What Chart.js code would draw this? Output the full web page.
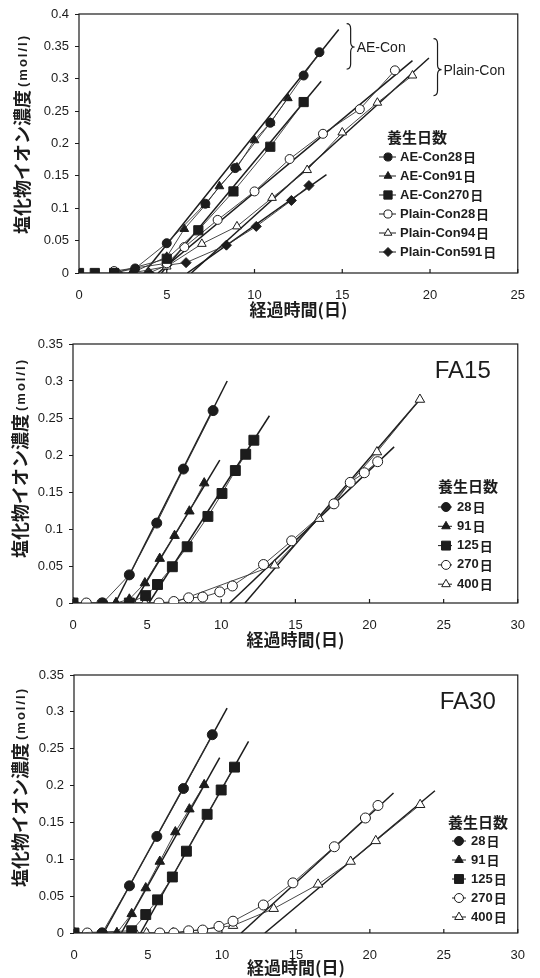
<!DOCTYPE html>
<html>
<head>
<meta charset="utf-8">
<script src="https://cdn.jsdelivr.net/npm/chart.js@4.4.0/dist/chart.umd.min.js"></script>
<style>
body { margin: 0; background: #fff; width: 540px; height: 978px; overflow: hidden; position: relative; }
.box { position: absolute; left: 0; width: 540px; }
</style>
</head>
<body>
<div class="box" style="top:0;height:320px"><canvas id="c1"></canvas></div>
<div class="box" style="top:320px;height:330px"><canvas id="c2"></canvas></div>
<div class="box" style="top:650px;height:328px"><canvas id="c3"></canvas></div>
<script>
// ---- top chart: AE-Con / Plain-Con
var names1 = ['AE-Con28日', 'AE-Con91日', 'AE-Con270日', 'Plain-Con28日', 'Plain-Con94日', 'Plain-Con591日'];
var ae28X = [2, 3.2, 5, 7.2, 8.9, 10.9, 12.8, 13.7];
var ae28Y = [0, 0.007, 0.046, 0.107, 0.162, 0.232, 0.305, 0.341];
var ae91X = [2.1, 3, 5, 6, 7.2, 8, 9, 10, 10.9, 11.9];
var ae91Y = [0, 0, 0.025, 0.068, 0.105, 0.134, 0.163, 0.205, 0.232, 0.27];
var ae270X = [0, 0.9, 2, 5, 6.8, 8.8, 10.9, 12.8];
var ae270Y = [0, 0, 0, 0.022, 0.066, 0.126, 0.195, 0.264];
var pl28X = [2, 5, 6, 7.9, 10, 12, 13.9, 16, 18];
var pl28Y = [0.003, 0.015, 0.04, 0.082, 0.126, 0.176, 0.215, 0.253, 0.313];
var pl94X = [3, 5, 7, 9, 11, 13, 15, 17, 19];
var pl94Y = [0, 0.01, 0.045, 0.072, 0.116, 0.159, 0.217, 0.263, 0.305];
var pl591X = [2.2, 4, 5, 6.1, 8.4, 10.1, 12.1, 13.1];
var pl591Y = [0, 0, 0.012, 0.016, 0.043, 0.072, 0.112, 0.135];
// regression lines (start, end)
var fit1X = [[3.7, 14.8], [4.7, 13.8], [4.5, 19], [6.4, 19.94], [6.17, 14.1]];
var fit1Y = [[0, 0.376], [0, 0.296], [0, 0.328], [0, 0.332], [0, 0.152]];

// ---- FA15
var namesFA = ['28日', '91日', '125日', '270日', '400日'];
var fa15d28X = [2, 3.8, 5.65, 7.45, 9.45];
var fa15d28Y = [0, 0.038, 0.108, 0.181, 0.26];
var fa15d91X = [2.9, 3.8, 4.85, 5.85, 6.85, 7.85, 8.85];
var fa15d91Y = [0, 0.005, 0.027, 0.06, 0.091, 0.124, 0.162];
var fa15d125X = [0, 3.8, 4.9, 5.7, 6.7, 7.7, 9.1, 10.05, 10.95, 11.65, 12.2];
var fa15d125Y = [0, 0, 0.01, 0.025, 0.049, 0.076, 0.117, 0.148, 0.179, 0.201, 0.22];
var fa15d270X = [0, 0.9, 1.95, 3.9, 5.8, 6.8, 7.8, 8.75, 9.9, 10.75, 12.85, 14.75, 17.6, 18.7, 19.65, 20.55];
var fa15d270Y = [0, 0, 0, 0, 0, 0.002, 0.007, 0.008, 0.015, 0.023, 0.052, 0.084, 0.134, 0.163, 0.176, 0.191];
var fa15d400X = [0, 2.9, 4.85, 6.7, 13.6, 16.6, 20.5, 23.4];
var fa15d400Y = [0, 0, 0, 0, 0.051, 0.114, 0.204, 0.275];
var fit2X = [[2.85, 10.4], [4.1, 9.9], [5.12, 13.25], [10.57, 21.66], [11.6, 23.4]];
var fit2Y = [[0, 0.3], [0, 0.193], [0, 0.253], [0, 0.211], [0, 0.275]];

// ---- FA30
var fa30d28X = [1.9, 3.75, 5.6, 7.4, 9.35];
var fa30d28Y = [0, 0.064, 0.131, 0.196, 0.269];
var fa30d91X = [2.9, 3.9, 4.85, 5.8, 6.85, 7.8, 8.8];
var fa30d91Y = [0, 0.026, 0.061, 0.097, 0.137, 0.168, 0.201];
var fa30d125X = [0, 3.9, 4.85, 5.65, 6.65, 7.6, 9, 9.95, 10.85];
var fa30d125Y = [0, 0.003, 0.025, 0.045, 0.076, 0.111, 0.161, 0.194, 0.225];
var fa30d270X = [0, 0.9, 1.9, 4, 5.8, 6.75, 7.75, 8.7, 9.8, 10.75, 12.8, 14.8, 17.6, 19.7, 20.55];
var fa30d270Y = [0, 0, 0, 0, 0, 0, 0.003, 0.004, 0.009, 0.016, 0.038, 0.068, 0.117, 0.156, 0.173];
var fa30d400X = [0, 2.9, 4.9, 6.7, 10.75, 13.5, 16.5, 18.7, 20.4, 23.4];
var fa30d400Y = [0, 0, 0, 0, 0.01, 0.033, 0.066, 0.097, 0.125, 0.174];
var fit3X = [[2, 10.35], [3.2, 9.85], [4.5, 11.8], [11.3, 21.6], [12.9, 24.4]];
var fit3Y = [[0, 0.305], [0, 0.238], [0, 0.26], [0, 0.19], [0, 0.193]];

var ink = '#1c1c1c';
var numFont = '"Liberation Sans", Arial, sans-serif';
var jpFont = '"Noto Sans CJK JP", sans-serif';

var style1 = [
  {pointStyle: 'circle', radius: 4.5, open: false},
  {pointStyle: 'triangle', radius: 5, open: false},
  {pointStyle: 'rect', radius: 6.5, open: false},
  {pointStyle: 'circle', radius: 4.5, open: true},
  {pointStyle: 'triangle', radius: 5, open: true},
  {pointStyle: 'rectRot', radius: 5, open: false}
];
var styleFA = [
  {pointStyle: 'circle', radius: 5, open: false},
  {pointStyle: 'triangle', radius: 5.5, open: false},
  {pointStyle: 'rect', radius: 7, open: false},
  {pointStyle: 'circle', radius: 5, open: true},
  {pointStyle: 'triangle', radius: 5.5, open: true}
];

function pts(xs, ys) {
  return xs.map(function (x, i) { return {x: x, y: ys[i]}; });
}

function buildSets(names, xs, ys, styles, fx, fy) {
  var sets = [];
  names.forEach(function (n, i) {
    var s = styles[i];
    sets.push({
      label: n,
      data: pts(xs[i], ys[i]),
      showLine: true,
      borderColor: '#333',
      borderWidth: 0.9,
      pointStyle: s.pointStyle,
      pointRadius: s.radius,
      pointBorderWidth: 1,
      pointBorderColor: ink,
      pointBackgroundColor: s.open ? '#fff' : ink
    });
  });
  fx.forEach(function (x, i) {
    sets.push({
      data: pts(x, fy[i]),
      showLine: true,
      borderColor: ink,
      borderWidth: 1.5,
      pointRadius: 0
    });
  });
  return sets;
}

var decoPlugin = {
  id: 'deco',
  beforeDatasetsDraw: function (chart) {
    var ctx = chart.ctx, a = chart.chartArea, xs = chart.scales.x;
    ctx.save();
    ctx.strokeStyle = ink;
    ctx.lineWidth = 1.2;
    ctx.strokeRect(a.left, a.top, a.right - a.left, a.bottom - a.top);
    ctx.beginPath();
    xs.ticks.forEach(function (t) {
      var px = xs.getPixelForValue(t.value);
      ctx.moveTo(px, a.bottom);
      ctx.lineTo(px, a.bottom - 4);
    });
    ctx.stroke();
    ctx.restore();
  },
  afterDraw: function (chart) {
    var o = chart.options.plugins.deco;
    var ctx = chart.ctx, a = chart.chartArea;
    ctx.save();
    ctx.fillStyle = ink;
    ctx.strokeStyle = ink;

    // y axis title, mixed sizes
    var main = '塩化物イオン濃度', unit = '(mol/l)';
    var f1 = 'bold 18px ' + jpFont, f2 = 'bold 13px ' + numFont;
    ctx.font = f1; var w1 = ctx.measureText(main).width;
    ctx.font = f2; ctx.letterSpacing = '2px'; var w2 = ctx.measureText(unit).width;
    ctx.letterSpacing = '0px';
    ctx.translate(o.yTitleX, o.yTitleY);
    ctx.rotate(-Math.PI / 2);
    ctx.textBaseline = 'middle';
    ctx.textAlign = 'left';
    var sx = -(w1 + w2 + 3) / 2;
    ctx.font = f1; ctx.fillText(main, sx, 0);
    ctx.font = f2; ctx.letterSpacing = '2px'; ctx.fillText(unit, sx + w1 + 3, 1);
    ctx.letterSpacing = '0px';
    ctx.setTransform(1, 0, 0, 1, 0, 0);
    ctx.scale(chart.currentDevicePixelRatio, chart.currentDevicePixelRatio);

    // legend
    var lg = o.legend;
    ctx.textBaseline = 'middle';
    ctx.textAlign = 'center';
    ctx.font = 'bold 15px ' + jpFont;
    ctx.fillText('養生日数', lg.titleX, lg.titleY);
    ctx.textAlign = 'left';
    var rows = chart.data.datasets.filter(function (d) { return d.label; });
    rows.forEach(function (d, i) {
      var y = lg.rowY + i * lg.dy;
      ctx.lineWidth = 1;
      ctx.beginPath();
      ctx.moveTo(lg.lineX0, y);
      ctx.lineTo(lg.lineX1, y);
      ctx.stroke();
      ctx.fillStyle = d.pointBackgroundColor;
      ctx.strokeStyle = ink;
      Chart.helpers.drawPoint(ctx, {pointStyle: d.pointStyle, radius: d.pointRadius * 0.9, rotation: 0, borderWidth: 1}, lg.markX, y);
      ctx.fillStyle = ink;
      var num = d.label.slice(0, -1);
      ctx.font = 'bold 13px ' + numFont;
      ctx.fillText(num, lg.textX, y);
      var w = ctx.measureText(num).width;
      ctx.font = 'bold 13px ' + jpFont;
      ctx.fillText('日', lg.textX + w + 1, y);
    });

    // panel label
    if (o.panel) {
      ctx.font = '24px ' + numFont;
      ctx.textAlign = 'center';
      ctx.fillText(o.panel, a.right - o.panelDx, a.top + o.panelDy);
    }

    // braces
    if (o.braces) {
      var xs = chart.scales.x, ys = chart.scales.y;
      ctx.lineWidth = 1.2;
      o.braces.forEach(function (b) {
        var x = xs.getPixelForValue(b.x), t = ys.getPixelForValue(b.top),
            bt = ys.getPixelForValue(b.bottom), m = ys.getPixelForValue(b.mid), w = 8;
        ctx.beginPath();
        ctx.moveTo(x, t);
        ctx.quadraticCurveTo(x + w / 2, t, x + w / 2, t + 5);
        ctx.lineTo(x + w / 2, m - 5);
        ctx.quadraticCurveTo(x + w / 2, m, x + w, m);
        ctx.quadraticCurveTo(x + w / 2, m, x + w / 2, m + 5);
        ctx.lineTo(x + w / 2, bt - 5);
        ctx.quadraticCurveTo(x + w / 2, bt, x, bt);
        ctx.stroke();
        ctx.font = '14px ' + numFont;
        ctx.textAlign = 'left';
        ctx.fillText(b.text, x + w + 2, m + 1);
      });
    }
    ctx.restore();
  }
};

function makeChart(id, sets, p) {
  return new Chart(document.getElementById(id), {
    type: 'scatter',
    data: {datasets: sets},
    plugins: [decoPlugin],
    options: {
      responsive: true,
      maintainAspectRatio: false,
      animation: false,
      layout: {padding: {top: p.top, right: p.right, left: 0, bottom: 0}},
      plugins: {
        legend: {display: false},
        tooltip: {enabled: false},
        deco: p.deco
      },
      scales: {
        x: {
          type: 'linear', min: 0, max: p.xMax,
          afterFit: function (s) { s.height = p.xH; },
          grid: {display: false, drawTicks: false},
          border: {display: false},
          ticks: {stepSize: 5, padding: 15, color: ink, font: {family: numFont, size: 13}, maxRotation: 0},
          title: {display: true, text: '経過時間(日)', color: ink, padding: 0, font: {family: jpFont, size: 17, weight: 'bold'}}
        },
        y: {
          type: 'linear', min: 0, max: p.yMax,
          afterFit: function (s) { s.width = p.yW; },
          grid: {display: true, drawOnChartArea: false, drawTicks: true, tickLength: 4, color: ink},
          border: {display: false},
          ticks: {
            stepSize: 0.05, padding: 6, color: ink, font: {family: numFont, size: 13},
            callback: function (v) { return String(Math.round(v * 100) / 100); }
          }
        }
      }
    }
  });
}

makeChart('c1',
  buildSets(names1, [ae28X, ae91X, ae270X, pl28X, pl94X, pl591X], [ae28Y, ae91Y, ae270Y, pl28Y, pl94Y, pl591Y], style1, fit1X, fit1Y),
  {top: 14, right: 20, yW: 79, xH: 47, xMax: 25, yMax: 0.4,
   deco: {yTitleX: 22, yTitleY: 134,
          legend: {titleX: 417, titleY: 137, rowY: 157, dy: 19, lineX0: 379, lineX1: 396, markX: 388, textX: 400},
          braces: [{x: 15.25, top: 0.385, bottom: 0.315, mid: 0.349, text: 'AE-Con'},
                   {x: 20.2, top: 0.362, bottom: 0.274, mid: 0.314, text: 'Plain-Con'}]}});

makeChart('c2',
  buildSets(namesFA, [fa15d28X, fa15d91X, fa15d125X, fa15d270X, fa15d400X], [fa15d28Y, fa15d91Y, fa15d125Y, fa15d270Y, fa15d400Y], styleFA, fit2X, fit2Y),
  {top: 24, right: 19, yW: 73, xH: 47, xMax: 30, yMax: 0.35,
   deco: {yTitleX: 20, yTitleY: 138, panel: 'FA15', panelDx: 55, panelDy: 27,
          legend: {titleX: 468, titleY: 166, rowY: 187, dy: 19.3, lineX0: 438, lineX1: 452, markX: 446, textX: 457}}});

makeChart('c3',
  buildSets(namesFA, [fa30d28X, fa30d91X, fa30d125X, fa30d270X, fa30d400X], [fa30d28Y, fa30d91Y, fa30d125Y, fa30d270Y, fa30d400Y], styleFA, fit3X, fit3Y),
  {top: 25, right: 18, yW: 74, xH: 45, xMax: 30, yMax: 0.35,
   deco: {yTitleX: 20, yTitleY: 137, panel: 'FA30', panelDx: 50, panelDy: 27,
          legend: {titleX: 478, titleY: 172, rowY: 191, dy: 19, lineX0: 452, lineX1: 466, markX: 459, textX: 471}}});
</script>
</body>
</html>
